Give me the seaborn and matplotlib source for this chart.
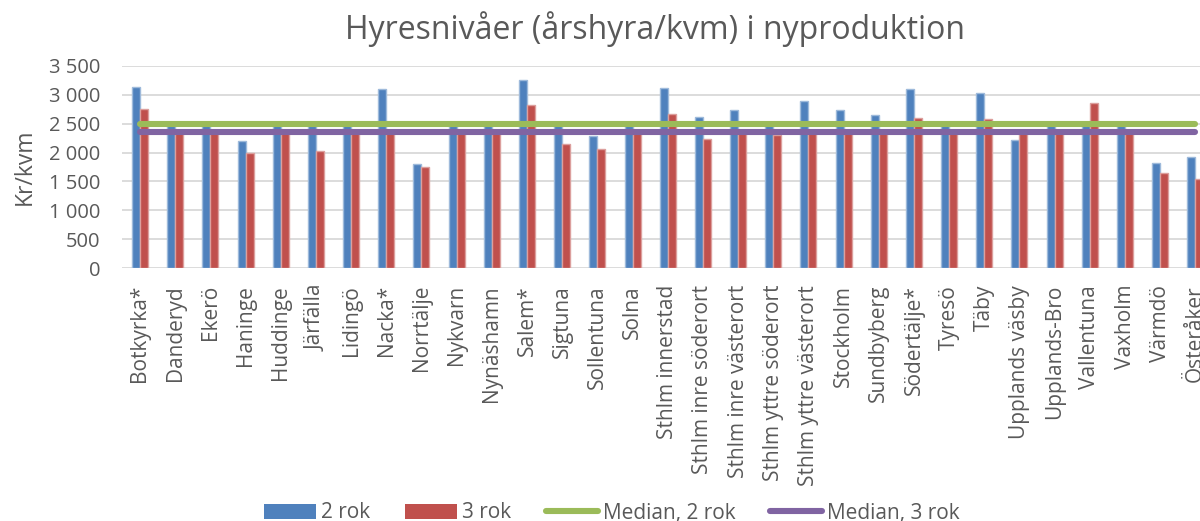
import matplotlib
matplotlib.use("Agg")
import matplotlib.pyplot as plt
import matplotlib.colors as mcolors
from matplotlib.patches import Patch
from matplotlib.lines import Line2D
from matplotlib.ticker import FuncFormatter
import seaborn as sns
import pandas as pd
import numpy as np

# ---------------- data ----------------
categories = [
    "Botkyrka*", "Danderyd", "Ekerö", "Haninge", "Huddinge", "Järfälla",
    "Lidingö", "Nacka*", "Norrtälje", "Nykvarn", "Nynäshamn", "Salem*",
    "Sigtuna", "Sollentuna", "Solna", "Sthlm innerstad", "Sthlm inre söderort",
    "Sthlm inre västerort", "Sthlm yttre söderort", "Sthlm yttre västerort",
    "Stockholm", "Sundbyberg", "Södertälje*", "Tyresö", "Täby",
    "Upplands väsby", "Upplands-Bro", "Vallentuna", "Vaxholm", "Värmdö",
    "Österåker",
]
rok2 = [3140, 2500, 2500, 2205, 2500, 2500, 2500, 3105, 1795, 2500, 2500,
        3245, 2500, 2285, 2500, 3110, 2620, 2740, 2500, 2885, 2740, 2645,
        3095, 2500, 3030, 2215, 2500, 2500, 2500, 1815, 1925]
rok3 = [2750, 2360, 2360, 1985, 2360, 2025, 2360, 2360, 1755, 2360, 2360,
        2820, 2150, 2060, 2360, 2665, 2235, 2360, 2305, 2360, 2360, 2360,
        2590, 2360, 2580, 2360, 2360, 2860, 2360, 1645, 1540]
median_2rok = 2500
median_3rok = 2360
series_labels = ["2 rok", "3 rok", "Median, 2 rok", "Median, 3 rok"]
yticks = [0, 500, 1000, 1500, 2000, 2500, 3000, 3500]
title = "Hyresnivåer (årshyra/kvm) i nyproduktion"
ylabel = "Kr/kvm"

# ---------------- style ----------------
c_blue = "#4F81BD"
c_red = "#C0504D"
c_green = "#9BBB59"
c_purple = "#8064A2"
txt = "#595959"
grid_c = "#D9D9D9"

sns.set_theme(style="white")
plt.rcParams["font.family"] = ["Open Sans", "DejaVu Sans"]

W, H = 1200, 521
fig = plt.figure(figsize=(W / 100, H / 100), dpi=100)
ax_left = 122.4 / W
ax_w = 31 * 35.18 / W
ax_bottom = 1 - 268.3 / H
ax_h = (268.3 - 65.7) / H
ax = fig.add_axes([ax_left, ax_bottom, ax_w, ax_h])

df = pd.DataFrame({
    "kommun": categories * 2,
    "hyra": rok2 + rok3,
    "typ": [series_labels[0]] * len(categories) + [series_labels[1]] * len(categories),
})

sns.barplot(data=df, x="kommun", y="hyra", hue="typ", order=categories,
            hue_order=series_labels[:2], palette=[c_blue, c_red],
            width=0.455, gap=0, ax=ax, legend=False, zorder=2,
            linewidth=1.0, saturation=1)

for p in ax.patches:
    fc = np.array(mcolors.to_rgb(p.get_facecolor()))
    p.set_edgecolor(tuple(fc + (1 - fc) * 0.45))

xpos = np.arange(len(categories))
ax.plot(xpos, [median_2rok] * len(categories), color=c_green, lw=4.4,
        solid_capstyle="round", zorder=3)
ax.plot(xpos, [median_3rok] * len(categories), color=c_purple, lw=4.4,
        solid_capstyle="round", zorder=3)

ax.set_xlim(-0.5, len(categories) - 0.5)
ax.set_ylim(0, 3500)
ax.set_yticks(yticks)
ax.yaxis.set_major_formatter(FuncFormatter(lambda v, p: f"{int(v):,}".replace(",", " ")))
ax.yaxis.grid(True, color=grid_c, lw=1.3, zorder=0)
ax.set_axisbelow(True)
for s in ax.spines.values():
    s.set_visible(False)

ax.tick_params(axis="x", length=0, pad=12, labelsize=15, labelcolor=txt,
               labelrotation=90)
ax.tick_params(axis="y", length=0, pad=16, labelsize=14.5, labelcolor=txt)
for lab in ax.get_xticklabels():
    lab.set_va("top")
    lab.set_ha("center")

ax.set_xlabel("")
ax.set_ylabel(ylabel, fontsize=16.5, color=txt, va="center")
ax.yaxis.set_label_coords((25 - 122.4) / (31 * 35.18), 0.5)

fig.text(655 / W, 1 - 39 / H, title, ha="center", va="baseline",
         fontsize=23, color=txt)

handles = [
    Patch(facecolor=c_blue, edgecolor="none"),
    Patch(facecolor=c_red, edgecolor="none"),
    Line2D([0], [0], color=c_green, lw=4.4, solid_capstyle="round"),
    Line2D([0], [0], color=c_purple, lw=4.4, solid_capstyle="round"),
]
fig.legend(handles, series_labels, loc="center", ncol=4, frameon=False,
           bbox_to_anchor=(612 / W, 1 - 513 / H), fontsize=15,
           labelcolor=txt, handlelength=2.5, handleheight=0.7,
           handletextpad=0.25, columnspacing=1.65, borderaxespad=0,
           borderpad=0)

fig.savefig("out.png", dpi=100)
